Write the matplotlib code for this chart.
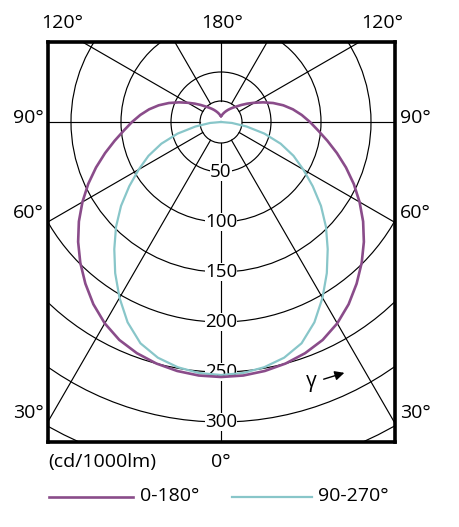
import numpy as np
import matplotlib.pyplot as plt
from matplotlib.patches import Circle
from matplotlib.lines import Line2D

plt.rcParams['font.family'] = ['Open Sans', 'DejaVu Sans']

# C0-C180 plane (one half, mirrored for the other side), cd/1000lm
gamma_c0 = [0, 5, 10, 15, 20, 25, 30, 35, 40, 45, 50, 55, 60, 65, 70, 75, 80, 85, 90,
            95, 100, 105, 110, 115, 120, 125, 130, 135, 140, 145, 150, 155, 160, 165,
            170, 175, 180]
cd_c0 = [255, 254.5, 252.8, 250, 246, 240.5, 232.5, 222.5, 211, 199, 186.5, 173.5,
         160, 146.5, 133, 120, 108, 97.5, 89, 81, 73, 64.5, 55.5, 46.5, 38.5, 32,
         26.5, 22, 18.8, 16.2, 14, 12, 10.3, 8.8, 7.5, 6.5, 6]

# C90-C270 plane
gamma_c90 = [0, 5, 10, 15, 20, 25, 30, 35, 40, 45, 50, 55, 60, 65, 70, 75, 80, 85, 90]
cd_c90 = [253, 252, 249, 244, 235.5, 221, 203, 184.5, 166, 148.5, 130.5, 112, 95, 80,
          63.5, 45, 26, 11, 0]

ring_values = [50, 100, 150, 200, 250, 300]
grid_rings = [21, 50, 100, 150, 200, 250, 300, 350]

purple = '#8a4c8a'
cyan = '#88c6c9'

W, H = 460, 527


def polar_xy(g, r):
    g = np.radians(g)
    return np.asarray(r) * np.sin(g), -np.asarray(r) * np.cos(g)


def fx(px):
    return px / W


def fy(py):
    return 1 - py / H


fig = plt.figure(figsize=(W / 100, H / 100), dpi=100)
ax = fig.add_axes([fx(48), fy(442), 347 / W, 400 / H])
ax.set_xlim(-173, 174)
ax.set_ylim(-320, 80)
ax.set_xticks([])
ax.set_yticks([])
for s in ax.spines.values():
    s.set_linewidth(2.6)
    s.set_zorder(10)

# grid
for r in grid_rings:
    ax.add_patch(Circle((0, 0), r, fill=False, lw=0.85, ec='black', zorder=1))
for ang in range(0, 360, 30):
    x, y = polar_xy(ang, [21, 600])
    ax.plot(x, y, color='black', lw=0.85, zorder=1)

for r in ring_values:
    ax.text(0, -r, str(r), ha='center', va='center', fontsize=13.5,
            bbox=dict(fc='white', ec='none', pad=0.2), zorder=3)

# curves
g = np.array(gamma_c0)
v = np.array(cd_c0)
x, y = polar_xy(g, v)
ax.plot(np.concatenate([-x[::-1], x]), np.concatenate([y[::-1], y]),
        color=purple, lw=1.9, zorder=5, solid_joinstyle='round')

g = np.array(gamma_c90)
v = np.array(cd_c90)
x, y = polar_xy(g, v)
ax.plot(np.concatenate([-x[::-1], x]), np.concatenate([y[::-1], y]),
        color=cyan, lw=1.6, zorder=4, solid_joinstyle='round')

# gamma arrow
ax.text(90, -260, 'γ', ha='center', va='center', fontsize=15)
ax.annotate('', xy=(126, -250), xytext=(100, -258),
            arrowprops=dict(arrowstyle='-|>', color='black', lw=1,
                            mutation_scale=14))

# angle labels around frame
fs = 14
fig.text(fx(62), fy(23), '120°', ha='center', va='center', fontsize=fs)
fig.text(fx(222), fy(23), '180°', ha='center', va='center', fontsize=fs)
fig.text(fx(382), fy(23), '120°', ha='center', va='center', fontsize=fs)
fig.text(fx(28), fy(118), '90°', ha='center', va='center', fontsize=fs)
fig.text(fx(415), fy(118), '90°', ha='center', va='center', fontsize=fs)
fig.text(fx(28), fy(213), '60°', ha='center', va='center', fontsize=fs)
fig.text(fx(415), fy(213), '60°', ha='center', va='center', fontsize=fs)
fig.text(fx(28), fy(413), '30°', ha='center', va='center', fontsize=fs)
fig.text(fx(415), fy(413), '30°', ha='center', va='center', fontsize=fs)
fig.text(fx(221), fy(462), '0°', ha='center', va='center', fontsize=fs)
fig.text(fx(48), fy(462), '(cd/1000lm)', ha='left', va='center', fontsize=fs)

# legend
fig.add_artist(Line2D([fx(49), fx(133)], [fy(497), fy(497)], color=purple, lw=1.9))
fig.text(fx(140), fy(496), '0-180°', ha='left', va='center', fontsize=fs)
fig.add_artist(Line2D([fx(232), fx(312)], [fy(497), fy(497)], color=cyan, lw=1.6))
fig.text(fx(318), fy(496), '90-270°', ha='left', va='center', fontsize=fs)

fig.savefig('out.png', dpi=100, facecolor='white')
